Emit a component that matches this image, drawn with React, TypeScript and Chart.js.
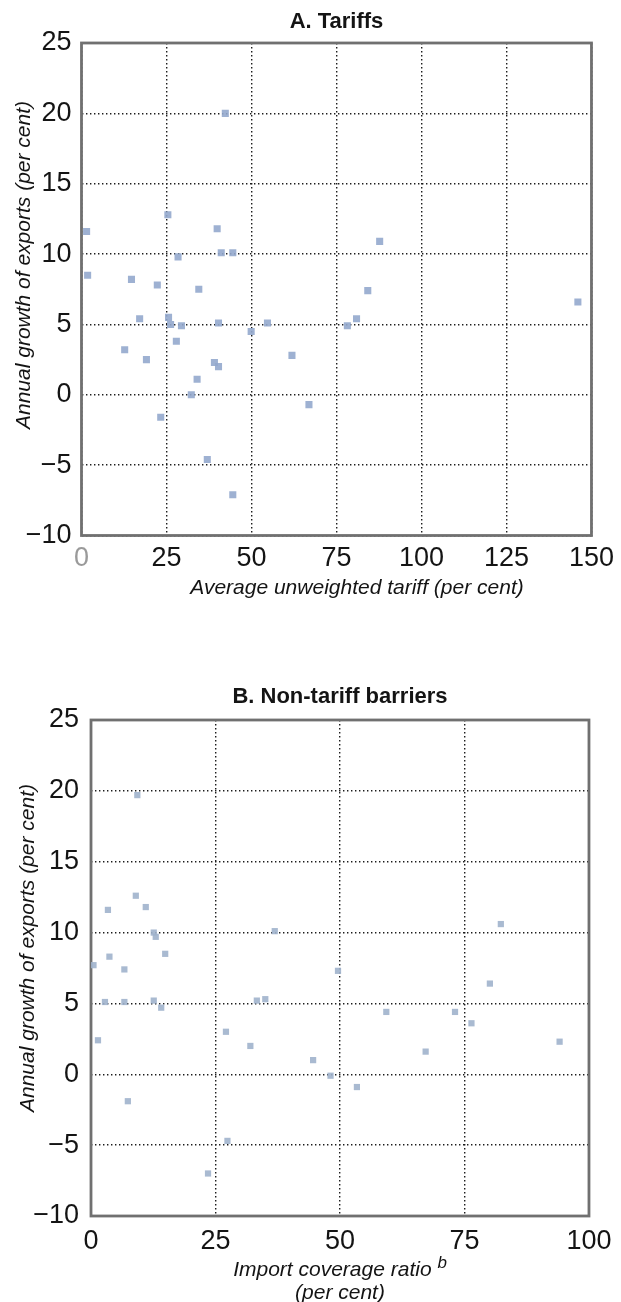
import React, { useEffect, useRef } from "react";
import { Chart, registerables } from "chart.js";

Chart.register(...registerables);

// ---------- Data ----------
// Panel A: average unweighted tariff (%) vs annual growth of exports (%)
const tariffX = [42.3, 25.4, 1.5, 39.9, 28.4, 41.1, 44.5, 1.8, 14.7, 22.3, 34.5, 17.1, 25.6, 26.2, 29.4, 40.3, 49.9, 27.9, 12.7, 19.1, 39.1, 40.3, 34.0, 32.3, 23.3, 37.0, 44.5, 87.7, 84.2, 80.9, 78.2, 54.7, 61.9, 66.9, 146.0];
const tariffGrowth = [20.0, 12.8, 11.6, 11.8, 9.8, 10.1, 10.1, 8.5, 8.2, 7.8, 7.5, 5.4, 5.5, 5.0, 4.9, 5.1, 4.5, 3.8, 3.2, 2.5, 2.3, 2.0, 1.1, 0.0, -1.6, -4.6, -7.1, 10.9, 7.4, 5.4, 4.9, 5.1, 2.8, -0.7, 6.6];

// Panel B: import coverage ratio (%) vs annual growth of exports (%)
const coverageX = [9.3, 9.0, 3.4, 11.0, 12.6, 13.0, 3.7, 14.9, 6.7, 0.5, 2.8, 6.7, 12.6, 14.1, 1.4, 27.1, 32.0, 33.3, 35.0, 7.4, 27.4, 23.5, 49.6, 59.3, 73.1, 76.4, 80.1, 67.2, 44.6, 48.1, 53.4, 36.9, 82.3, 94.1];
const coverageGrowth = [19.7, 12.6, 11.6, 11.8, 10.0, 9.7, 8.3, 8.5, 7.4, 7.7, 5.1, 5.1, 5.2, 4.7, 2.4, 3.0, 2.0, 5.2, 5.3, -1.9, -4.7, -7.0, 7.3, 4.4, 4.4, 3.6, 6.4, 1.6, 1.0, -0.1, -0.9, 10.1, 10.6, 2.3];

// Axis ranges / tick steps
const growthRange = [-10, 25];
const growthStep = 5;
const tariffRange = [0, 150];
const coverageRange = [0, 100];
const xStep = 25;

// Texts
const titleA = "A. Tariffs";
const titleB = "B. Non-tariff barriers";
const yTitle = "Annual growth of exports (per cent)";
const xTitleA = "Average unweighted tariff (per cent)";
const xTitleB1 = "Import coverage ratio";
const xTitleB1sup = "b";
const xTitleB2 = "(per cent)";

// ---------- Styling ----------
const SANS = "'Liberation Sans Narrow', 'Liberation Sans', Arial, sans-serif";
const ITALIC = "italic 21px 'Liberation Sans', Arial, sans-serif";
const INK = "#141414";

type Seg = { text: string; font: string; dy?: number };
type TextItem = { segs: Seg[]; x: number; y: number; rotate?: number };

function textPlugin(items: TextItem[]) {
  return {
    id: "panelText",
    afterDraw(chart: any) {
      const ctx = chart.ctx as CanvasRenderingContext2D;
      for (const it of items) {
        ctx.save();
        ctx.fillStyle = INK;
        ctx.textBaseline = "middle";
        ctx.textAlign = "left";
        ctx.translate(it.x, it.y);
        if (it.rotate) ctx.rotate(it.rotate);
        let total = 0;
        const widths = it.segs.map((s) => {
          ctx.font = s.font;
          const w = ctx.measureText(s.text).width;
          total += w;
          return w;
        });
        let cx = -total / 2;
        it.segs.forEach((s, i) => {
          ctx.font = s.font;
          ctx.fillText(s.text, cx, s.dy || 0);
          cx += widths[i];
        });
        ctx.restore();
      }
    },
  };
}

const framePlugin = {
  id: "frame",
  beforeDatasetsDraw(chart: any) {
    const { ctx, chartArea } = chart;
    ctx.save();
    ctx.strokeStyle = "#707070";
    ctx.lineWidth = 2.8;
    ctx.strokeRect(chartArea.left, chartArea.top, chartArea.right - chartArea.left, chartArea.bottom - chartArea.top);
    ctx.restore();
  },
};

const fmt = (v: number) => (v < 0 ? "\u2212" + Math.abs(v) : String(v));

function makeConfig(opts: {
  xs: number[];
  ys: number[];
  xRange: number[];
  title: string;
  titlePad: { top: number; bottom: number };
  padRight: number;
  yWidth: number;
  xHeight: number;
  xTickPad: number;
  yTickPad: number;
  pointColor: string;
  pointRadius: number;
  xTickColor?: (v: number) => string;
  texts: TextItem[];
}): any {
  const points = opts.xs.map((x, i) => ({ x, y: opts.ys[i] }));
  const grid = { color: "#1c1c1c", lineWidth: 1.4, drawTicks: false };
  const border = { display: false, dash: [1.4, 2.6] };
  return {
    type: "scatter",
    data: {
      datasets: [
        {
          data: points,
          pointStyle: "rect",
          pointRadius: opts.pointRadius,
          pointHoverRadius: opts.pointRadius,
          backgroundColor: opts.pointColor,
          borderWidth: 0,
        },
      ],
    },
    options: {
      responsive: false,
      animation: false,
      devicePixelRatio: 1,
      events: [],
      layout: { padding: { left: 0, right: opts.padRight, top: 0, bottom: 0 } },
      plugins: {
        legend: { display: false },
        tooltip: { enabled: false },
        title: {
          display: true,
          text: opts.title,
          fullSize: false,
          color: INK,
          font: { family: SANS, size: 22, weight: "bold" },
          padding: opts.titlePad,
        },
      },
      scales: {
        x: {
          type: "linear",
          min: opts.xRange[0],
          max: opts.xRange[1],
          grid,
          border,
          ticks: {
            stepSize: xStep,
            autoSkip: false,
            maxRotation: 0,
            padding: opts.xTickPad,
            font: { family: SANS, size: 27 },
            color: opts.xTickColor ? (c: any) => opts.xTickColor!(c.tick.value) : INK,
            callback: (v: any) => fmt(Number(v)),
          },
          afterFit: (s: any) => {
            s.height = opts.xHeight;
          },
        },
        y: {
          type: "linear",
          min: growthRange[0],
          max: growthRange[1],
          grid,
          border,
          ticks: {
            stepSize: growthStep,
            autoSkip: false,
            padding: opts.yTickPad,
            font: { family: SANS, size: 27 },
            color: INK,
            callback: (v: any) => fmt(Number(v)),
          },
          afterFit: (s: any) => {
            s.width = opts.yWidth;
          },
        },
      },
    },
    plugins: [framePlugin, textPlugin(opts.texts)],
  };
}

export default function App() {
  const refA = useRef<HTMLCanvasElement>(null);
  const refB = useRef<HTMLCanvasElement>(null);

  useEffect(() => {
    const cfgA = makeConfig({
      xs: tariffX,
      ys: tariffGrowth,
      xRange: tariffRange,
      title: titleA,
      titlePad: { top: 8.8, bottom: 7.8 },
      padRight: 27,
      yWidth: 81.5,
      xHeight: 84.5,
      xTickPad: 7,
      yTickPad: 10,
      pointColor: "rgba(148,168,205,0.9)",
      pointRadius: 5,
      xTickColor: (v) => (v === 0 ? "#9a9a9a" : INK),
      texts: [
        { segs: [{ text: yTitle, font: ITALIC }], x: 24, y: 265, rotate: -Math.PI / 2 },
        { segs: [{ text: xTitleA, font: ITALIC }], x: 357, y: 588 },
      ],
    });
    const cfgB = makeConfig({
      xs: coverageX,
      ys: coverageGrowth,
      xRange: coverageRange,
      title: titleB,
      titlePad: { top: 63.8, bottom: 9.8 },
      padRight: 23,
      yWidth: 91,
      xHeight: 86,
      xTickPad: 9.5,
      yTickPad: 12,
      pointColor: "rgba(160,178,204,0.9)",
      pointRadius: 4.4,
      texts: [
        { segs: [{ text: yTitle, font: ITALIC }], x: 28, y: 328, rotate: -Math.PI / 2 },
        {
          segs: [
            { text: xTitleB1 + " ", font: ITALIC },
            { text: xTitleB1sup, font: "italic 17px 'Liberation Sans', Arial, sans-serif", dy: -7 },
          ],
          x: 340,
          y: 650,
        },
        { segs: [{ text: xTitleB2, font: ITALIC }], x: 340, y: 673 },
      ],
    });
    const a = new Chart(refA.current!, cfgA);
    const b = new Chart(refB.current!, cfgB);
    return () => {
      a.destroy();
      b.destroy();
    };
  }, []);

  return (
    <div style={{ position: "absolute", left: 0, top: 0, width: 621, height: 1302, background: "#fff" }}>
      <canvas ref={refA} width={621} height={620} style={{ position: "absolute", left: 0, top: 0, width: 621, height: 620 }} />
      <canvas ref={refB} width={621} height={682} style={{ position: "absolute", left: 0, top: 620, width: 621, height: 682 }} />
    </div>
  );
}
